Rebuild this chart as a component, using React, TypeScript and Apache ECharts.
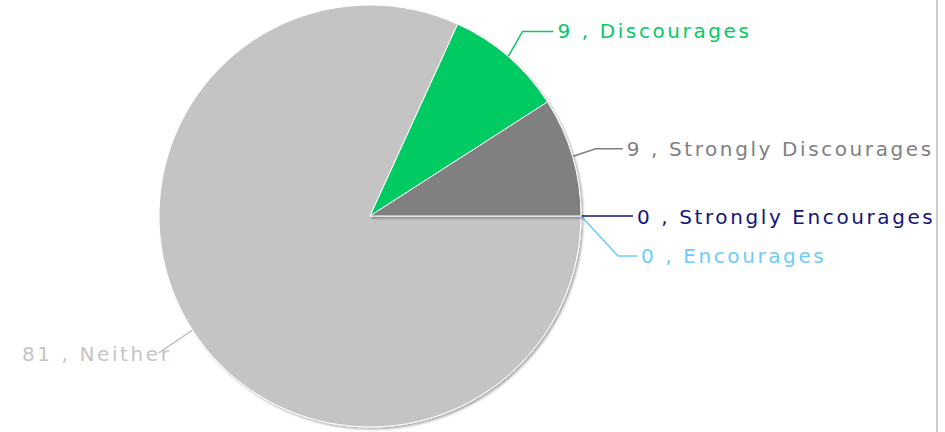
import React, { useEffect, useRef } from "react";
import * as echarts from "echarts";

const categories = ["Strongly Encourages", "Encourages", "Neither", "Discourages", "Strongly Discourages"];
const values = [0, 0, 81, 9, 9];
const sliceColors = ["#14147a", "#6ccbff", "#c4c4c4", "#05cb63", "#808080"];

export default function App() {
  const ref = useRef<HTMLDivElement>(null);
  useEffect(() => {
    if (!ref.current) return;
    const chart = echarts.init(ref.current, undefined, { renderer: "svg" });
    chart.setOption({
      animation: false,
      backgroundColor: "#ffffff",
      series: [
        {
          type: "pie",
          center: [370, 216],
          radius: 211,
          startAngle: 0,
          clockwise: true,
          avoidLabelOverlap: true,
          data: categories.map((name, i) => ({
            name,
            value: values[i],
            itemStyle: { color: sliceColors[i] },
            label: { color: sliceColors[i] },
            labelLine: { lineStyle: { color: sliceColors[i] } },
          })),
          itemStyle: {
            borderColor: "#ffffff",
            borderWidth: 1,
            shadowColor: "rgba(0,0,0,0.3)",
            shadowBlur: 2,
            shadowOffsetX: 2,
            shadowOffsetY: 2,
          },
          label: {
            show: true,
            position: "outside",
            formatter: "{c} , {b}",
            fontFamily: "DejaVu Sans",
            fontSize: 20,
            distanceToLabelLine: 4,
          },
          labelLine: {
            show: true,
            length: 28,
            length2: 27,
            lineStyle: { width: 1.5 },
          },
          labelLayout: (params: any) => {
            const i = params.dataIndex;
            const pts = params.labelLinePoints;
            const r = params.labelRect;
            if (!pts || !r) return {};
            const cy = r.y + r.height / 2;
            if (i === 0) {
              return {
                dx: 1,
                dy: 1,
                labelLinePoints: [pts[0], [pts[1][0], pts[1][1]], [pts[2][0] + 1, pts[2][1]]],
              };
            }
            if (i === 1) {
              const ty = pts[0][1] + 40;
              const p0 = pts[0];
              return {
                dx: 6,
                dy: ty - cy,
                labelLinePoints: [p0, [p0[0] + 37, ty], [pts[2][0] + 6, ty]],
              };
            }
            if (i === 2) {
              const p0 = pts[0];
              const end: [number, number] = [p0[0] - 34, p0[1] + 23];
              const ty = p0[1] + 24;
              return {
                dx: p0[0] - 21 - (r.x + r.width),
                dy: ty - cy,
                labelLinePoints: [p0, end, end],
              };
            }
            if (i === 3) {
              return {
                dy: -4,
                labelLinePoints: [pts[0], [pts[1][0] - 4, pts[1][1] - 4], [pts[2][0], pts[2][1] - 4]],
              };
            }
            return {};
          },
        },
      ],
    });
    return () => chart.dispose();
  }, []);
  return (
    <>
      <style>{`.chartbox text { letter-spacing: 2.6px; }`}</style>
      <div
        className="chartbox"
        ref={ref}
        style={{
          position: "fixed",
          left: 0,
          top: 0,
          width: 936,
          height: 432,
          overflow: "hidden",
          borderRight: "2px solid #cccccc",
          background: "#ffffff",
        }}
      />
    </>
  );
}
